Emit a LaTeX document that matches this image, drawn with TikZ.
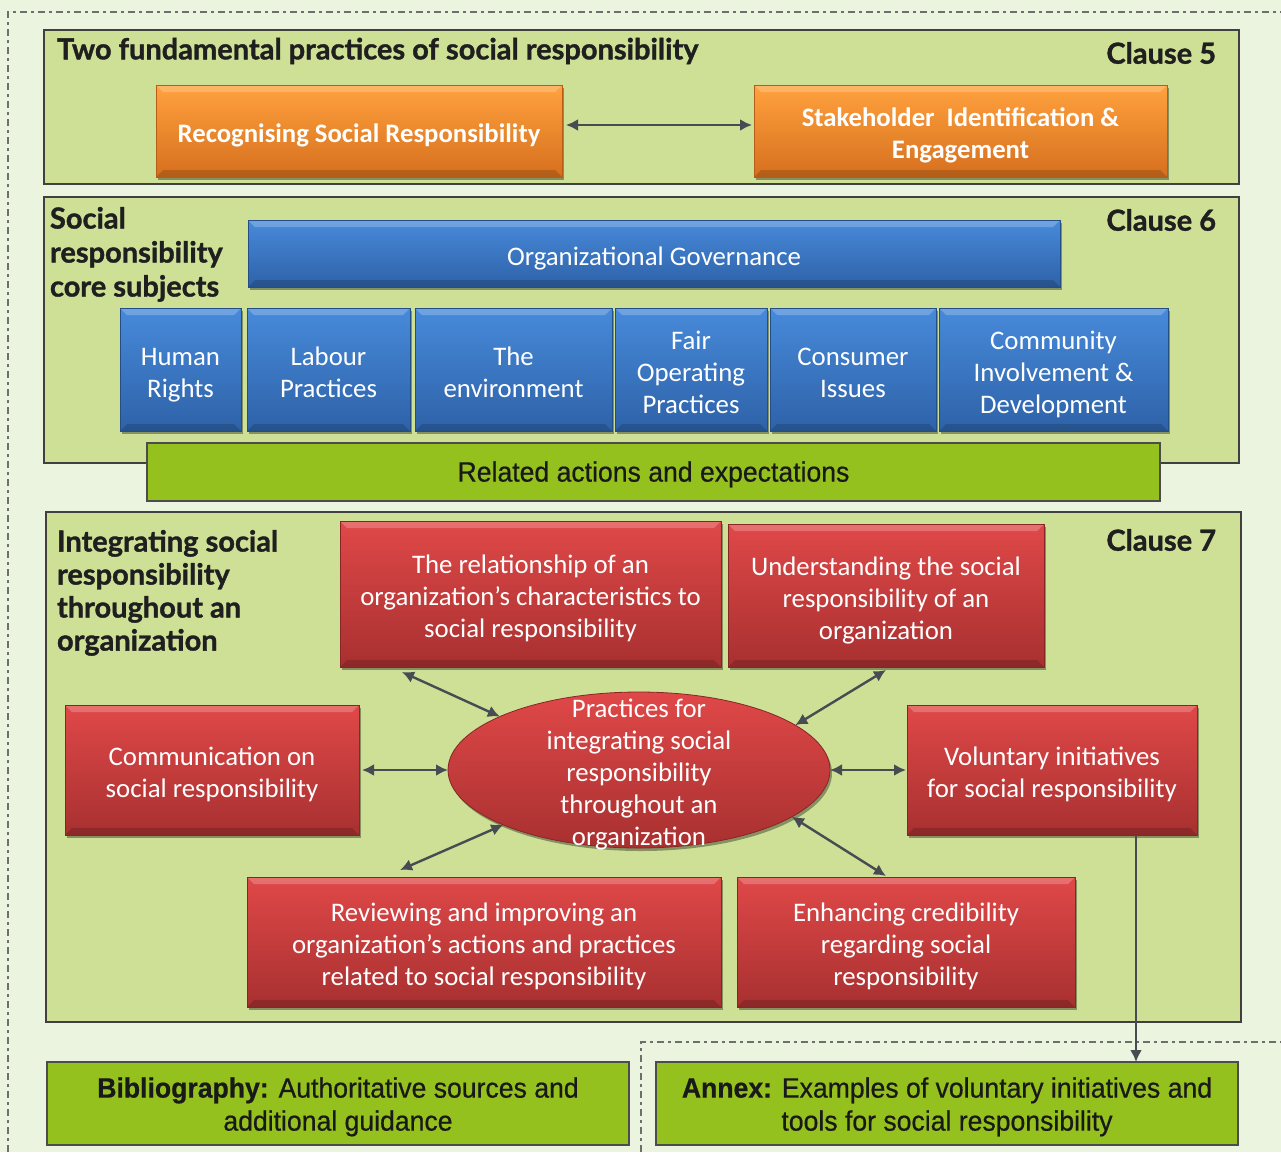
\documentclass[tikz,border=0pt]{standalone}
\usepackage{fontspec}
\setmainfont{Carlito}
\newfontfamily\hdrfont{Lato}[FakeBold=1.2]
\newfontfamily\cndfont{Liberation Sans}[FakeStretch=0.95,FakeBold=0.6]
\usetikzlibrary{shadows,arrows.meta,shapes.geometric}
\definecolor{pagebg}{HTML}{EBF4DE}
\definecolor{clausebg}{HTML}{CDE096}
\definecolor{olivegreen}{HTML}{95C11F}
\definecolor{orgtop}{HTML}{FFA23E}
\definecolor{orgbot}{HTML}{D66F1E}
\definecolor{bluetop}{HTML}{478ADA}
\definecolor{bluebot}{HTML}{2E62A8}
\definecolor{redtop}{HTML}{E04848}
\definecolor{redbot}{HTML}{A83030}
\definecolor{dashcol}{HTML}{6E6E6E}
\definecolor{arrowcol}{HTML}{474B52}
\newcommand\bxt[2][11pt]{\raisebox{0pt}[\dimexpr\height+#1\relax][\depth]{\begin{tabular}{@{}c@{}}#2\end{tabular}}}
\tikzset{
  every node/.style={inner sep=0pt, outer sep=0pt},
  hdr/.style={font=\hdrfont\bfseries\fontsize{29}{34}\selectfont, text=black!88, align=left},
  clausebox/.style={rectangle, draw=black!75, line width=2pt, fill=clausebg},
  bevel/.style={path picture={
    \fill[white,opacity=.22] (path picture bounding box.north west) -- (path picture bounding box.north east) -- ([shift={(-7pt,-7pt)}]path picture bounding box.north east) -- ([shift={(7pt,-7pt)}]path picture bounding box.north west) -- cycle;
    \fill[black,opacity=.16] (path picture bounding box.south west) -- (path picture bounding box.south east) -- ([shift={(-7pt,7pt)}]path picture bounding box.south east) -- ([shift={(7pt,7pt)}]path picture bounding box.south west) -- cycle;}},
  shad/.style={drop shadow={shadow xshift=2pt, shadow yshift=-3pt, opacity=.35, fill=black}},
  obox/.style={rectangle, draw=orgbot!85!black, line width=.8pt, top color=orgtop, bottom color=orgbot, bevel, shad, text=white, font=\bfseries\fontsize{26.7}{32}\selectfont},
  bbox/.style={rectangle, draw=bluebot!80!black, line width=.8pt, top color=bluetop, bottom color=bluebot, bevel, shad, text=white, font=\fontsize{26.8}{32}\selectfont},
  rbox/.style={rectangle, draw=redbot!80!black, line width=.8pt, top color=redtop, bottom color=redbot, bevel, shad, text=white, font=\fontsize{26.8}{32}\selectfont},
  gbox/.style={rectangle, draw=black!70, line width=1.5pt, fill=olivegreen, text=black!90, font=\cndfont\fontsize{28}{33}\selectfont},
  wtext/.style={text=white, font=\fontsize{26.8}{32}\selectfont},
  arr/.style={draw=arrowcol, line width=2.4pt, >={Latex[length=12pt,width=12pt]}},
  dashline/.style={draw=dashcol, line width=1.8pt, dash pattern=on 7pt off 4pt on 3pt off 4pt}
}
\begin{document}
\begin{tikzpicture}[x=1pt,y=-1pt]
\fill[pagebg] (0,0) rectangle (1281,1152);
\useasboundingbox (0,0) rectangle (1281,1152);
% dashed frames
\draw[dashline] (8,1152) -- (8,12) -- (1281,12);
\draw[dashline] (641,1152) -- (641,1042) -- (1281,1042);

% Clause 5
\node[clausebox, minimum width=1195pt, minimum height=154pt] (c5) at (641.5,107) {};
\node[hdr, anchor=west] (t5) at (57,51) {Two fundamental practices of social responsibility};
\node[hdr, anchor=east] (k5) at (1216,53) {Clause 5};
\node[obox, minimum width=406pt, minimum height=92pt] (o1) at (359,131) {\bxt{Recognising Social Responsibility}};
\node[obox, minimum width=413pt, minimum height=92pt] (o2) at (960.5,131) {\bxt{Stakeholder~ Identification \&\\Engagement}};
\draw[arr,<->] ([xshift=4pt,yshift=6pt]o1.east) -- ([xshift=-2pt,yshift=6pt]o2.west);

% Clause 6
\node[clausebox, minimum width=1195pt, minimum height=266pt] (c6) at (641.5,330) {};
\node[hdr, anchor=north west] (t6) at (50,207) {Social\\responsibility\\core subjects};
\node[hdr, anchor=east] (k6) at (1216,220) {Clause 6};
\node[bbox, minimum width=812pt, minimum height=67pt] (og) at (654,253.5) {\bxt{Organizational Governance}};
\node[bbox, minimum width=121pt, minimum height=123pt] (hr) at (180.5,369.5) {\bxt{Human\\Rights}};
\node[bbox, minimum width=163pt, minimum height=123pt] (lp) at (328.5,369.5) {\bxt{Labour\\Practices}};
\node[bbox, minimum width=197pt, minimum height=123pt] (te) at (513.5,369.5) {\bxt{The\\environment}};
\node[bbox, minimum width=152pt, minimum height=123pt] (fo) at (691,369.5) {\bxt{Fair\\Operating\\Practices}};
\node[bbox, minimum width=166pt, minimum height=123pt] (ci) at (853,369.5) {\bxt{Consumer\\Issues}};
\node[bbox, minimum width=229pt, minimum height=123pt] (cd) at (1053.5,369.5) {\bxt{Community\\Involvement \&\\Development}};
\node[gbox, minimum width=1013pt, minimum height=58pt] (ra) at (653.5,472) {\bxt[6pt]{Related actions and expectations}};

% Clause 7
\node[clausebox, minimum width=1195pt, minimum height=510pt] (c7) at (643.5,767) {};
\node[hdr, anchor=north west, font=\hdrfont\bfseries\fontsize{29}{33}\selectfont] (t7) at (57,530) {Integrating social\\responsibility\\throughout an\\organization};
\node[hdr, anchor=east] (k7) at (1216,540) {Clause 7};
\node[rbox, minimum width=381pt, minimum height=146pt] (r1) at (530.5,594) {\bxt{The relationship of an\\organization's characteristics to\\social responsibility}};
\node[rbox, minimum width=316pt, minimum height=143pt] (r2) at (886,595.5) {\bxt{Understanding the social\\responsibility of an\\organization}};
\node[rbox, minimum width=294pt, minimum height=130pt] (r3) at (212,770) {\bxt{Communication on\\social responsibility}};
\node[rbox, minimum width=290pt, minimum height=130pt] (r4) at (1052,770) {\bxt{Voluntary initiatives\\for social responsibility}};
\node[rbox, minimum width=474pt, minimum height=130pt] (r5) at (484,942) {\bxt{Reviewing and improving an\\organization’s actions and practices\\related to social responsibility}};
\node[rbox, minimum width=338pt, minimum height=130pt] (r6) at (906,942) {\bxt{Enhancing credibility\\regarding social\\responsibility}};
\node[ellipse, draw=redbot!80!black, line width=.8pt, top color=redtop, bottom color=redbot, shad, minimum width=382pt, minimum height=156pt] (el) at (639,770) {};
\node[wtext] (elt) at (639,770) {\bxt[10pt]{Practices for\\integrating social\\responsibility\\throughout an\\organization}};

\draw[arr,<->] ([xshift=62pt,yshift=-5pt]r1.south west) -- (el.159);
\draw[arr,<->] ([yshift=-3pt]r2.south) -- (el.16);
\draw[arr,<->] ([xshift=3pt]r3.east) -- (el.west);
\draw[arr,<->] (el.east) -- ([xshift=-1pt]r4.west);
\draw[arr,<->] ([xshift=153pt,yshift=7pt]r5.north west) -- (el.202);
\draw[arr,<->] ([xshift=149pt,yshift=1pt]r6.north west) -- (el.343);

% bottom
\node[gbox, minimum width=582pt, minimum height=83pt] (bib) at (338,1103.5) {\bxt[8pt]{\textbf{Bibliography:} Authoritative sources and\\additional guidance}};
\node[gbox, minimum width=582pt, minimum height=83pt] (anx) at (947,1103.5) {\bxt[8pt]{\textbf{Annex:} Examples of voluntary initiatives and\\tools for social responsibility}};
\draw[arr,->] ([xshift=84pt]r4.south) -- ([xshift=84pt]r4.south |- anx.north);
\end{tikzpicture}
\end{document}
